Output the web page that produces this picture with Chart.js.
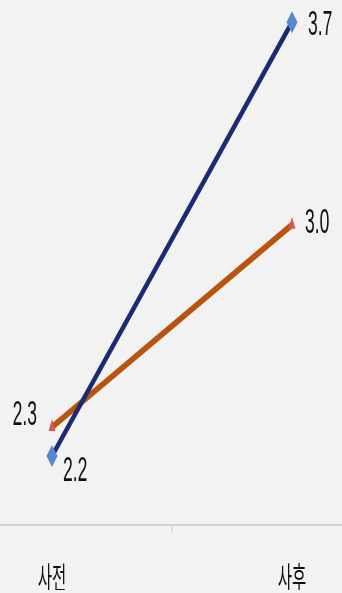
<!DOCTYPE html>
<html>
<head>
<meta charset="utf-8">
<script src="https://cdn.jsdelivr.net/npm/chart.js@4.4.1/dist/chart.umd.min.js"></script>
<style>
  html, body { margin: 0; padding: 0; background: #f2f2f2; overflow: hidden; }
  #wrap { width: 342px; height: 593px; overflow: hidden; }
  /* drawn twice as wide, then narrowed for the condensed look */
  #c { display: block; transform: scaleX(0.5); transform-origin: 0 0; }
</style>
</head>
<body>
<div id="wrap"><canvas id="c" width="684" height="593"></canvas></div>
<script>
const categories = ['사전', '사후'];
const seriesBlue = [2.2, 3.7];
const seriesOrange = [2.3, 3.0];
const xPositions = [0, 1];

const toPoints = vals => vals.map((v, i) => ({ x: xPositions[i], y: v }));

// value labels next to each point
const valueLabels = {
  id: 'valueLabels',
  afterDatasetsDraw(chart, args, opts) {
    const ctx = chart.ctx;
    ctx.save();
    ctx.fillStyle = '#111';
    ctx.font = '35px "Liberation Sans", "Noto Sans", sans-serif';
    ctx.textBaseline = 'middle';
    chart.data.datasets.forEach((ds, di) => {
      const meta = chart.getDatasetMeta(di);
      meta.data.forEach((pt, i) => {
        const place = opts.place[di][i];
        ctx.textAlign = place.align;
        ctx.fillText(ds.data[i].y.toFixed(1), pt.x + place.dx, pt.y + place.dy);
      });
    });
    ctx.restore();
  }
};

new Chart(document.getElementById('c'), {
  type: 'line',
  data: {
    datasets: [
      {
        data: toPoints(seriesBlue),
        borderColor: '#1b2a72',
        borderWidth: 7,
        pointStyle: 'rectRot',
        pointRadius: 11,
        pointBackgroundColor: '#5687cf',
        pointBorderColor: '#5687cf',
        pointBorderWidth: 0,
        clip: false
      },
      {
        data: toPoints(seriesOrange),
        borderColor: '#b9540f',
        borderWidth: 7,
        pointStyle: 'triangle',
        pointRadius: 8,
        pointBackgroundColor: '#d25a55',
        pointBorderColor: '#d25a55',
        pointBorderWidth: 0,
        clip: false
      }
    ]
  },
  options: {
    responsive: false,
    animation: false,
    layout: { autoPadding: false, padding: { left: 0, right: 0, top: 0, bottom: 3 } },
    plugins: {
      legend: { display: false },
      tooltip: { enabled: false },
      valueLabels: {
        place: [
          [{ dx: 22, dy: 15, align: 'left' }, { dx: 32, dy: 3, align: 'left' }],
          [{ dx: -30, dy: -12, align: 'right' }, { dx: 26, dy: -1, align: 'left' }]
        ]
      }
    },
    scales: {
      x: {
        type: 'linear',
        min: -0.2167,
        max: 1.2083,
        afterBuildTicks: scale => {
          scale.ticks = [0, 0.5, 1].map(v => ({ value: v }));
        },
        afterFit: scale => { scale.height = 65; },
        grid: {
          drawOnChartArea: false,
          drawTicks: true,
          tickLength: 8,
          lineWidth: 2,
          color: c => (c.tick && c.tick.value === 0.5) ? '#cfcfcf' : 'rgba(0,0,0,0)'
        },
        border: { color: '#d2d2d2', width: 2 },
        ticks: {
          padding: 29,
          autoSkip: false,
          maxRotation: 0,
          color: '#111',
          font: { family: '"Noto Sans CJK KR", sans-serif', size: 31, lineHeight: 1 },
          callback: v => (v === 0 ? categories[0] : v === 1 ? categories[1] : '')
        }
      },
      y: {
        display: false,
        min: 1.9615,
        max: 3.7768
      }
    }
  },
  plugins: [valueLabels]
});
</script>
</body>
</html>
